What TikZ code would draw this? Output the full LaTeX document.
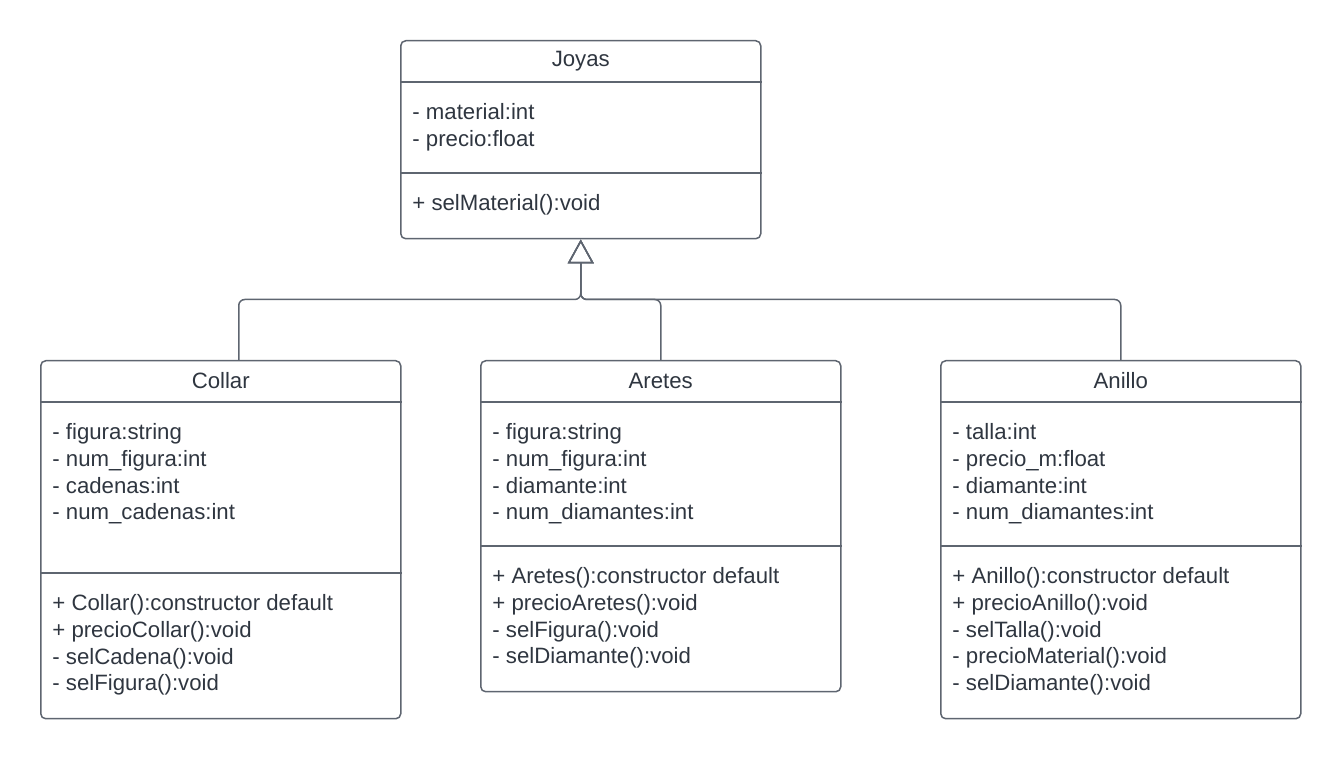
\documentclass[tikz,border=0pt]{standalone}
\usepackage{fontspec}
\setmainfont{Liberation Sans}
\usepackage{tikz}
\usetikzlibrary{arrows.meta, positioning, calc}
\definecolor{jyLine}{HTML}{5E6570}
\definecolor{jyText}{HTML}{2F3640}
\tikzset{
  jy-class/.style={
    rectangle, rounded corners=2.5pt, draw=jyLine, line width=0.75pt,
    fill=white, minimum width=180pt, anchor=north west, inner sep=0pt
  },
  jy-sep/.style={draw=jyLine, line width=0.75pt},
  jy-title/.style={
    font=\fontsize{11.1pt}{13.4pt}\selectfont, text=jyText, inner sep=0pt
  },
  jy-text/.style={
    font=\fontsize{11.1pt}{13.4pt}\selectfont, text=jyText, align=left,
    anchor=north west, inner sep=0pt
  },
  jy-inherit/.style={
    -{Triangle[open, length=12pt, width=13pt]}, draw=jyLine,
    line width=0.75pt, rounded corners=3pt
  },
}

\begin{document}
\begin{tikzpicture}[x=0.5pt, y=-0.5pt]
  \useasboundingbox (0,0) rectangle (1340,758);

  \node[jy-class, minimum height=99pt] (joyas) at (400,40) {};
  \node[jy-class, minimum height=179pt] (collar) at (40,360) {};
  \node[jy-class, minimum height=165.5pt] (aretes) at (480,360) {};
  \node[jy-class, minimum height=179pt] (anillo) at (940,360) {};

  \draw[jy-sep] ([yshift=-21pt]joyas.north west) -- ([yshift=-21pt]joyas.north east);
  \draw[jy-sep] ([yshift=-66.5pt]joyas.north west) -- ([yshift=-66.5pt]joyas.north east);
  \draw[jy-sep] ([yshift=-21pt]collar.north west) -- ([yshift=-21pt]collar.north east);
  \draw[jy-sep] ([yshift=-106.5pt]collar.north west) -- ([yshift=-106.5pt]collar.north east);
  \draw[jy-sep] ([yshift=-21pt]aretes.north west) -- ([yshift=-21pt]aretes.north east);
  \draw[jy-sep] ([yshift=-93pt]aretes.north west) -- ([yshift=-93pt]aretes.north east);
  \draw[jy-sep] ([yshift=-21pt]anillo.north west) -- ([yshift=-21pt]anillo.north east);
  \draw[jy-sep] ([yshift=-93pt]anillo.north west) -- ([yshift=-93pt]anillo.north east);

  \node[jy-title] (joyas-t) at ([yshift=-10.5pt]joyas.north) {Joyas};
  \node[jy-text] (joyas-a) at ([xshift=6pt, yshift=-31.5pt]joyas.north west)
    {- material:int\\- precio:float};
  \node[jy-text] (joyas-m) at ([xshift=6pt, yshift=-77pt]joyas.north west)
    {+ selMaterial():void};

  \node[jy-title] (collar-t) at ([yshift=-10.5pt]collar.north) {Collar};
  \node[jy-text] (collar-a) at ([xshift=6pt, yshift=-31.5pt]collar.north west)
    {- figura:string\\- num\_figura:int\\- cadenas:int\\- num\_cadenas:int};
  \node[jy-text] (collar-m) at ([xshift=6pt, yshift=-117pt]collar.north west)
    {+ Collar():constructor default\\+ precioCollar():void\\- selCadena():void\\- selFigura():void};

  \node[jy-title] (aretes-t) at ([yshift=-10.5pt]aretes.north) {Aretes};
  \node[jy-text] (aretes-a) at ([xshift=6pt, yshift=-31.5pt]aretes.north west)
    {- figura:string\\- num\_figura:int\\- diamante:int\\- num\_diamantes:int};
  \node[jy-text] (aretes-m) at ([xshift=6pt, yshift=-103.5pt]aretes.north west)
    {+ Aretes():constructor default\\+ precioAretes():void\\- selFigura():void\\- selDiamante():void};

  \node[jy-title] (anillo-t) at ([yshift=-10.5pt]anillo.north) {Anillo};
  \node[jy-text] (anillo-a) at ([xshift=6pt, yshift=-31.5pt]anillo.north west)
    {- talla:int\\- precio\_m:float\\- diamante:int\\- num\_diamantes:int};
  \node[jy-text] (anillo-m) at ([xshift=6pt, yshift=-103.5pt]anillo.north west)
    {+ Anillo():constructor default\\+ precioAnillo():void\\- selTalla():void\\- precioMaterial():void\\- selDiamante():void};

  \coordinate (hub) at ($(joyas.south)+(0,-30pt)$);
  \draw[jy-inherit] ([xshift=9pt]collar.north) |- (hub) -- (joyas.south);
  \draw[jy-inherit] (aretes.north) |- (hub) -- (joyas.south);
  \draw[jy-inherit] (anillo.north) |- (hub) -- (joyas.south);
\end{tikzpicture}
\end{document}
